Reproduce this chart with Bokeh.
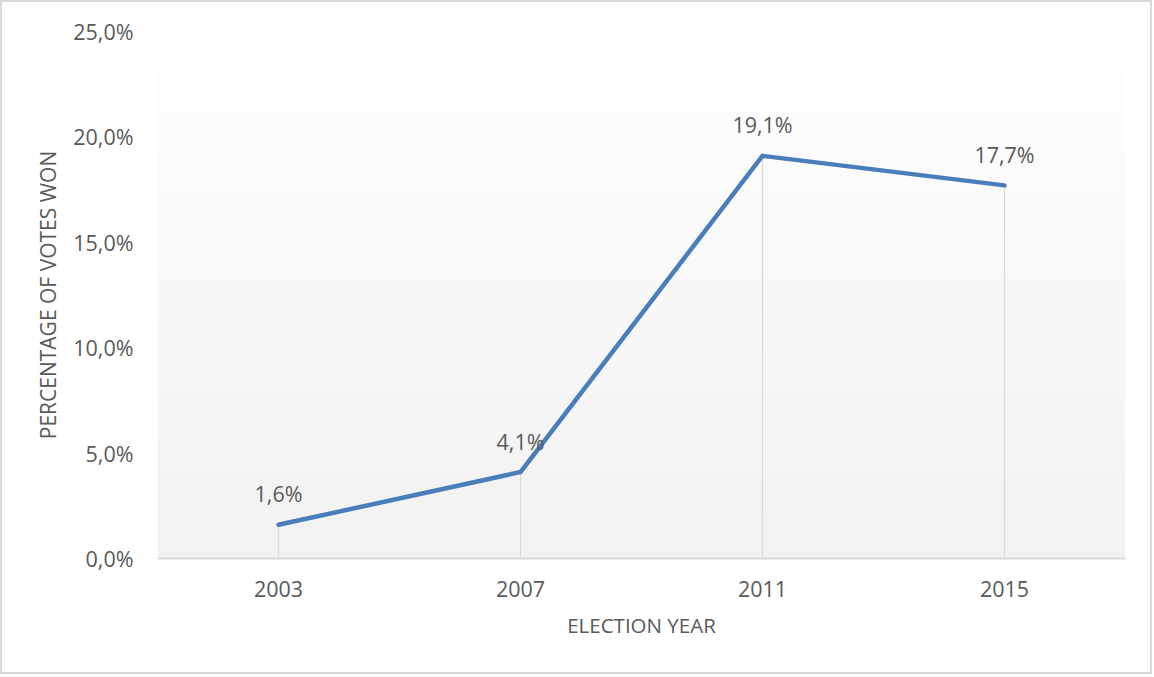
import numpy as np
from bokeh.plotting import figure
from bokeh.models import Range1d, ColumnDataSource, FixedTicker
from bokeh.core.properties import value
from bokeh.embed import file_html
from bokeh.resources import INLINE

# ---- data ----
years = ["2003", "2007", "2011", "2015"]
vote_pct = [1.6, 4.1, 19.1, 17.7]
vote_labels = ["1,6%", "4,1%", "19,1%", "17,7%"]
y_ticks = [0, 5, 10, 15, 20, 25]
y_tick_labels = ["0,0%", "5,0%", "10,0%", "15,0%", "20,0%", "25,0%"]

FONT = "Open Sans"
TXT = "#595959"
GRID = "#d9d9d9"
BLUE = "#4a7ebb"

xs = list(range(len(years)))
src = ColumnDataSource(dict(x=xs, y=vote_pct, lab=vote_labels, y0=[0] * len(xs)))

p = figure(width=1152, height=674, output_backend="svg", toolbar_location=None,
           x_range=Range1d(-0.5, len(years) - 0.5), y_range=Range1d(0, 25),
           min_border_left=155, min_border_right=29, min_border_top=29, min_border_bottom=118)
p.styles = {"border": "2px solid #d9d9d9"}
p.outline_line_color = None
p.background_fill_color = "white"
p.border_fill_color = "white"
p.grid.visible = False

# gradient background for the plot area
n = 256
t = np.linspace(0, 1, n)  # 0 bottom -> 1 top
g = (242 + (255 - 242) * t).astype(np.uint32)
img = np.empty((n, 1), dtype=np.uint32)
view = img.view(dtype=np.uint8).reshape((n, 1, 4))
view[:, 0, 0] = g
view[:, 0, 1] = g
view[:, 0, 2] = g
view[:, 0, 3] = 255
p.image_rgba(image=[img], x=-0.5, y=0, dw=len(years), dh=25, level="image")

# drop lines
p.segment(x0="x", y0="y0", x1="x", y1="y", source=src, line_color=GRID, line_width=1.2)

# line
p.line("x", "y", source=src, line_color=BLUE, line_width=4.5, line_join="round", line_cap="round")

# data labels
p.text("x", "y", text="lab", source=src, y_offset=-31, text_align="center",
       text_baseline="middle", text_font=value(FONT), text_font_size="21.5px", text_color=TXT)

# x axis
xa = p.xaxis[0]
xa.ticker = FixedTicker(ticks=xs)
xa.major_label_overrides = {i: y for i, y in enumerate(years)}
xa.axis_line_color = GRID
xa.axis_line_width = 2
xa.major_tick_line_color = None
xa.minor_tick_line_color = None
xa.major_tick_in = 0
xa.major_tick_out = 0
xa.major_label_standoff = 22
xa.major_label_text_font = FONT
xa.major_label_text_font_size = "21.5px"
xa.major_label_text_color = TXT
xa.axis_label = "ELECTION YEAR"
xa.axis_label_text_font = FONT
xa.axis_label_text_font_size = "20.5px"
xa.axis_label_text_font_style = "normal"
xa.axis_label_text_color = TXT
xa.axis_label_standoff = 11

# y axis
ya = p.yaxis[0]
ya.ticker = FixedTicker(ticks=y_ticks)
ya.major_label_overrides = {v: l for v, l in zip(y_ticks, y_tick_labels)}
ya.axis_line_color = None
ya.major_tick_line_color = None
ya.minor_tick_line_color = None
ya.major_tick_in = 0
ya.major_tick_out = 0
ya.major_label_standoff = 24
ya.major_label_text_font = FONT
ya.major_label_text_font_size = "21.5px"
ya.major_label_text_color = TXT
ya.axis_label = "PERCENTAGE OF VOTES WON"
ya.axis_label_text_font = FONT
ya.axis_label_text_font_size = "21px"
ya.axis_label_text_font_style = "normal"
ya.axis_label_text_color = TXT
ya.axis_label_standoff = 8

open("out.html", "w").write(file_html(p, INLINE))
